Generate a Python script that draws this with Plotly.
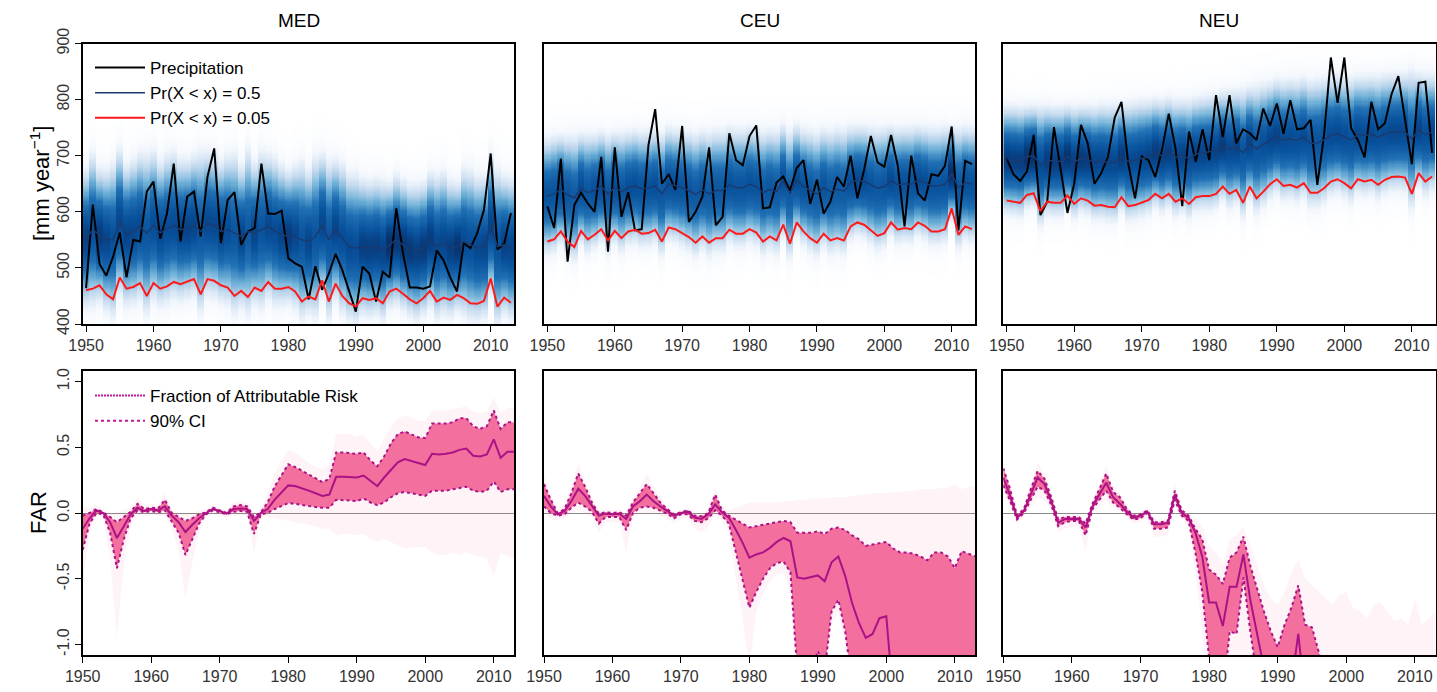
import numpy as np
import plotly.graph_objects as go

years = list(range(1950, 2014))
regions = ["MED", "CEU", "NEU"]

# ---------------- top row: precipitation [mm/year] ----------------
med_precip = [464,613,507,486,520,563,483,550,547,636,
              654,552,597,686,547,627,636,556,662,713,
              544,621,635,541,565,571,686,597,596,602,
              517,508,502,444,503,461,490,525,496,460,
              422,502,490,440,493,483,606,526,465,465,
              463,467,531,514,483,458,544,535,562,603,
              704,533,543,598]
med_q50 = [553,568,559,550,550,582,559,565,574,562,
           576,562,570,576,568,570,576,565,579,576,
           565,568,562,556,565,562,568,574,565,559,
           556,556,550,547,556,576,550,568,553,538,
           535,538,535,538,532,541,550,541,532,529,
           535,550,538,544,535,538,547,541,535,538,
           576,538,541,535]
med_q05 = [460,463,469,453,444,483,463,466,473,450,
           473,463,467,475,471,475,480,453,480,477,
           469,465,450,459,448,465,459,475,463,463,
           466,458,440,449,444,478,440,472,450,437,
           431,446,443,446,437,458,463,454,444,437,
           446,459,440,447,443,452,446,437,436,441,
           481,431,447,438]

ceu_precip = [610,571,695,511,612,634,615,600,698,529,
              715,591,635,567,569,719,783,650,667,639,
              753,582,600,627,715,576,591,740,692,683,
              735,754,606,608,652,663,638,678,692,614,
              657,597,618,662,645,700,624,675,735,688,
              680,737,682,574,700,633,620,667,664,682,
              752,567,691,685]
ceu_q50 = [628,632,640,630,625,642,634,638,645,632,
           643,636,643,646,641,642,646,632,650,647,
           643,638,631,639,632,638,638,648,643,643,
           649,645,634,640,636,655,632,657,645,638,
           632,643,636,640,637,652,656,654,648,642,
           645,656,648,650,649,656,652,646,646,649,
           668,643,652,649]
ceu_q05 = [547,551,565,547,537,566,551,559,569,549,
           566,553,565,568,561,562,568,547,572,569,
           562,555,545,556,545,553,553,568,561,561,
           569,563,547,556,549,577,543,581,565,553,
           545,561,549,553,549,574,581,577,567,557,
           562,581,568,571,569,581,575,565,565,569,
           606,559,574,569]

neu_precip = [695,667,655,672,737,594,618,751,675,598,
              650,755,722,650,669,698,768,796,686,624,
              699,692,662,710,775,713,610,743,689,747,
              692,808,733,808,722,747,740,728,784,753,
              793,739,799,747,749,764,648,737,875,794,
              875,749,728,697,796,747,758,810,842,767,
              685,830,832,705]
neu_q50 = [693,692,690,698,700,683,692,690,690,698,
           689,695,693,688,690,688,688,698,690,692,
           695,698,705,700,706,697,700,695,703,705,
           706,709,718,712,716,705,722,712,720,728,
           735,728,730,727,733,722,723,728,736,739,
           734,728,738,736,738,733,739,742,743,742,
           730,746,738,742]
neu_q05 = [620,618,616,630,633,601,618,616,616,629,
           614,624,620,611,612,609,608,626,610,612,
           616,621,632,624,632,618,624,614,626,628,
           628,632,645,632,639,616,645,624,636,649,
           658,646,648,643,651,634,634,642,654,658,
           651,642,658,654,657,648,657,662,663,661,
           632,669,654,663]

# ---------------- bottom row: FAR ----------------
med_far = [-0.12,-0.04,0.02,0.0,-0.07,-0.19,-0.10,-0.01,0.04,0.015,
           0.03,0.02,0.05,-0.02,-0.07,-0.145,-0.09,-0.04,0.0,0.03,
           0.015,-0.005,0.03,0.035,0.03,-0.06,0.0,0.03,0.10,0.155,
           0.21,0.205,0.19,0.17,0.15,0.13,0.14,0.275,0.275,0.275,
           0.27,0.285,0.245,0.205,0.27,0.33,0.385,0.41,0.395,0.38,
           0.365,0.45,0.445,0.45,0.46,0.48,0.49,0.435,0.43,0.445,
           0.56,0.42,0.465,0.465]
med_hi = [-0.02,0.0,0.03,0.005,-0.03,-0.07,-0.03,0.01,0.07,0.03,
          0.04,0.035,0.10,0.0,-0.03,-0.06,-0.04,-0.01,0.005,0.04,
          0.02,0.0,0.05,0.06,0.05,-0.03,0.005,0.08,0.20,0.28,
          0.37,0.35,0.32,0.29,0.26,0.235,0.26,0.46,0.46,0.455,
          0.45,0.46,0.40,0.355,0.43,0.53,0.60,0.62,0.60,0.575,
          0.57,0.68,0.68,0.68,0.69,0.72,0.72,0.66,0.64,0.66,
          0.78,0.64,0.69,0.69]
med_lo = [-0.28,-0.08,0.0,-0.01,-0.15,-0.42,-0.20,-0.04,0.02,0.005,
          0.015,0.005,0.02,-0.06,-0.15,-0.32,-0.20,-0.08,-0.01,0.02,
          0.005,-0.01,0.01,0.015,0.01,-0.16,-0.01,0.0,0.03,0.05,
          0.075,0.07,0.06,0.05,0.045,0.04,0.04,0.10,0.10,0.095,
          0.09,0.11,0.08,0.06,0.08,0.12,0.15,0.16,0.15,0.14,
          0.13,0.17,0.17,0.17,0.18,0.19,0.20,0.17,0.16,0.17,
          0.24,0.16,0.18,0.18]
med_env_hi = [0.05,0.04,0.06,0.02,0.0,0.0,0.02,0.04,0.12,0.06,
              0.07,0.06,0.16,0.03,0.0,0.0,0.0,0.02,0.03,0.06,
              0.04,0.02,0.08,0.09,0.08,0.0,0.03,0.15,0.30,0.40,
              0.48,0.46,0.42,0.38,0.35,0.33,0.37,0.60,0.60,0.60,
              0.58,0.60,0.53,0.47,0.56,0.66,0.72,0.74,0.73,0.70,
              0.70,0.78,0.78,0.78,0.79,0.80,0.81,0.77,0.76,0.77,
              0.88,0.76,0.80,0.80]
med_env_lo = [-0.55,-0.15,-0.02,-0.03,-0.35,-0.95,-0.40,-0.10,-0.01,-0.02,
              -0.01,-0.02,-0.02,-0.12,-0.30,-0.65,-0.38,-0.15,-0.03,-0.01,
              -0.02,-0.03,-0.02,-0.02,-0.02,-0.30,-0.04,-0.03,-0.04,-0.05,
              -0.06,-0.07,-0.08,-0.09,-0.10,-0.12,-0.12,-0.17,-0.16,-0.16,
              -0.17,-0.16,-0.20,-0.22,-0.20,-0.22,-0.25,-0.27,-0.26,-0.26,
              -0.26,-0.30,-0.32,-0.32,-0.30,-0.32,-0.30,-0.32,-0.33,-0.35,
              -0.48,-0.30,-0.33,-0.35]

ceu_far = [0.13,0.05,-0.01,0.015,0.09,0.185,0.13,0.05,-0.02,-0.005,
           -0.01,-0.005,-0.045,0.05,0.09,0.14,0.09,0.05,0.015,-0.02,
           0.0,0.01,-0.035,-0.045,-0.01,0.065,0.005,-0.035,-0.125,-0.225,
           -0.34,-0.315,-0.30,-0.265,-0.22,-0.19,-0.215,-0.49,-0.50,-0.49,
           -0.475,-0.52,-0.375,-0.33,-0.48,-0.685,-0.835,-0.95,-0.92,-0.80,
           -0.785,-1.4,-1.5,-1.6,-1.5,-1.7,-1.8,-1.6,-1.6,-1.7,
           -1.9,-1.6,-1.7,-1.7]
ceu_hi = [0.22,0.10,0.0,0.03,0.15,0.30,0.20,0.08,-0.005,0.005,
          0.0,0.005,-0.02,0.08,0.15,0.22,0.15,0.08,0.03,-0.01,
          0.005,0.02,-0.02,-0.025,0.0,0.14,0.02,-0.02,-0.05,-0.08,
          -0.11,-0.10,-0.09,-0.075,-0.065,-0.06,-0.07,-0.15,-0.15,-0.15,
          -0.14,-0.16,-0.12,-0.11,-0.13,-0.17,-0.20,-0.25,-0.24,-0.23,
          -0.22,-0.27,-0.30,-0.30,-0.31,-0.33,-0.36,-0.30,-0.30,-0.33,
          -0.42,-0.29,-0.31,-0.33]
ceu_lo = [0.05,0.0,-0.02,-0.01,0.04,0.08,0.05,0.01,-0.08,-0.03,
          -0.03,-0.03,-0.13,0.0,0.04,0.05,0.04,0.02,-0.005,-0.04,
          -0.01,-0.01,-0.06,-0.07,-0.04,0.02,-0.02,-0.08,-0.30,-0.52,
          -0.72,-0.60,-0.50,-0.42,-0.38,-0.37,-0.45,-1.2,-1.3,-1.2,
          -1.05,-1.2,-0.75,-0.66,-0.90,-1.3,-1.5,-1.6,-1.6,-1.5,
          -1.5,-1.7,-1.8,-1.8,-1.8,-1.9,-1.9,-1.8,-1.8,-1.9,
          -2.0,-1.8,-1.9,-1.9]
ceu_env_hi = [0.28,0.14,0.03,0.07,0.20,0.38,0.25,0.12,0.02,0.03,
              0.02,0.03,0.0,0.12,0.20,0.30,0.20,0.12,0.05,0.01,
              0.02,0.04,0.0,0.0,0.02,0.20,0.05,0.02,0.04,0.06,
              0.08,0.08,0.08,0.08,0.08,0.09,0.09,0.10,0.10,0.11,
              0.11,0.11,0.12,0.12,0.12,0.13,0.14,0.14,0.15,0.15,
              0.15,0.16,0.16,0.17,0.17,0.18,0.18,0.18,0.19,0.19,
              0.22,0.18,0.20,0.20]
ceu_env_lo = [0.0,-0.04,-0.05,-0.04,0.0,0.02,0.0,-0.03,-0.15,-0.07,
              -0.07,-0.07,-0.30,-0.04,0.0,0.0,0.0,-0.02,-0.04,-0.08,
              -0.04,-0.04,-0.12,-0.15,-0.10,-0.02,-0.06,-0.15,-0.50,-0.80,
              -1.2,-0.75,-0.62,-0.52,-0.47,-0.46,-0.60,-1.5,-1.5,-1.5,
              -1.5,-1.5,-0.85,-0.75,-1.0,-1.5,-1.5,-1.5,-1.5,-1.5,
              -1.5,-1.5,-1.5,-1.5,-1.5,-1.5,-1.5,-1.5,-1.5,-1.5,
              -1.5,-1.5,-1.5,-1.5]

neu_far = [0.27,0.13,-0.035,0.015,0.14,0.27,0.22,0.09,-0.075,-0.045,
           -0.045,-0.045,-0.11,0.05,0.14,0.23,0.12,0.07,0.01,-0.035,
           -0.02,0.01,-0.085,-0.085,-0.075,0.14,0.0,-0.035,-0.15,-0.33,
           -0.68,-0.68,-0.86,-0.56,-0.56,-0.315,-0.66,-0.94,-1.25,-1.5,
           -1.7,-1.5,-1.3,-0.92,-1.4,-1.6,-1.8,-1.9,-2.0,-1.9,
           -1.9,-2.0,-2.0,-2.1,-2.0,-2.0,-2.1,-2.1,-2.1,-2.1,
           -1.8,-2.1,-2.1,-2.0]
neu_hi = [0.34,0.18,-0.02,0.03,0.18,0.32,0.26,0.12,-0.05,-0.03,
          -0.03,-0.03,-0.08,0.07,0.18,0.30,0.16,0.12,0.03,-0.02,
          -0.01,0.02,-0.07,-0.07,-0.06,0.17,0.02,-0.02,-0.12,-0.20,
          -0.43,-0.47,-0.54,-0.34,-0.30,-0.18,-0.40,-0.58,-0.75,-0.90,
          -1.02,-0.85,-0.72,-0.55,-0.85,-0.87,-1.06,-1.3,-1.5,-1.5,
          -1.5,-1.6,-1.6,-1.6,-1.6,-1.6,-1.6,-1.7,-1.7,-1.7,
          -1.4,-1.7,-1.7,-1.6]
neu_lo = [0.21,0.09,-0.05,0.0,0.10,0.20,0.17,0.06,-0.10,-0.07,
          -0.06,-0.06,-0.17,0.03,0.10,0.17,0.08,0.04,-0.01,-0.05,
          -0.04,0.0,-0.12,-0.12,-0.11,0.10,-0.02,-0.06,-0.30,-0.60,
          -1.1,-1.3,-1.4,-0.90,-0.92,-0.49,-0.90,-1.3,-1.6,-1.8,
          -2.0,-2.0,-2.0,-2.0,-2.0,-2.0,-2.0,-2.0,-2.0,-2.0,
          -2.2,-2.2,-2.2,-2.2,-2.2,-2.2,-2.2,-2.2,-2.2,-2.2,
          -2.2,-2.2,-2.2,-2.2]
neu_env_hi = [0.40,0.22,0.0,0.06,0.22,0.38,0.30,0.15,-0.03,-0.01,
              -0.01,-0.01,-0.05,0.10,0.22,0.36,0.19,0.15,0.05,0.0,
              0.01,0.04,-0.05,-0.05,-0.04,0.22,0.04,0.0,-0.05,-0.10,
              -0.25,-0.30,-0.38,-0.20,-0.17,-0.10,-0.25,-0.40,-0.55,-0.65,
              -0.70,-0.60,-0.45,-0.35,-0.50,-0.55,-0.60,-0.65,-0.70,-0.62,
              -0.60,-0.72,-0.75,-0.80,-0.70,-0.68,-0.75,-0.82,-0.80,-0.85,
              -0.65,-0.85,-0.80,-0.75]
neu_env_lo = [0.15,0.05,-0.08,-0.03,0.05,0.12,0.10,0.02,-0.15,-0.12,
              -0.10,-0.10,-0.30,0.0,0.05,0.10,0.04,0.01,-0.04,-0.08,
              -0.07,-0.03,-0.18,-0.18,-0.17,0.05,-0.05,-0.10,-0.45,-0.90,
              -2.0,-2.0,-2.0,-2.0,-2.0,-2.0,-2.0,-2.0,-2.0,-2.0,
              -2.0,-2.0,-2.0,-2.0,-2.0,-2.0,-2.0,-2.0,-2.0,-2.0,
              -2.0,-2.0,-2.0,-2.0,-2.0,-2.0,-2.0,-2.0,-2.0,-2.0,
              -2.0,-2.0,-2.0,-2.0]

top_data = [(med_precip, med_q50, med_q05), (ceu_precip, ceu_q50, ceu_q05),
            (neu_precip, neu_q50, neu_q05)]
bot_data = [(med_far, med_hi, med_lo, med_env_hi, med_env_lo),
            (ceu_far, ceu_hi, ceu_lo, ceu_env_hi, ceu_env_lo),
            (neu_far, neu_hi, neu_lo, neu_env_hi, neu_env_lo)]

x_ticks = [1950, 1960, 1970, 1980, 1990, 2000, 2010]
top_yticks = [400, 500, 600, 700, 800, 900]
far_yticks = [-1.0, -0.5, 0.0, 0.5, 1.0]
far_yticktext = ["-1.0", "-0.5", "0.0", "0.5", "1.0"]

# ---------------- layout geometry (pixels) ----------------
W, H = 1437, 692
col_px = [(82.7, 514.3), (544.0, 975.3), (1003.3, 1435.5)]
top_px = (43.5, 324.0)
bot_px = (371.0, 655.0)

def xdom(c):
    return [col_px[c][0] / W, col_px[c][1] / W]

def ydom(r):
    return [1 - r[1] / H, 1 - r[0] / H]

FONT = "Liberation Sans, Arial, Helvetica, sans-serif"
TICKFONT = dict(family=FONT, size=16, color="#333333")
blues = [[0.0, "#ffffff"], [0.06, "#f4f8fd"], [0.16, "#c6dbef"], [0.32, "#6baed6"],
         [0.52, "#2171b5"], [0.78, "#08519c"], [1.0, "#08306b"]]
PINK_LINE = "#ab1285"

fig = go.Figure()
ygrid = np.arange(400, 901, 2.0)

for c in range(3):
    precip, q50, q05 = [np.array(a, dtype=float) for a in top_data[c]]
    xa = "x" if c == 0 else f"x{c+1}"
    ya = "y" if c == 0 else f"y{c+1}"
    sig = (q50 - q05) / 1.645
    z = np.exp(-0.5 * ((ygrid[:, None] - q50[None, :]) / sig[None, :]) ** 2) / sig[None, :]
    z = z / z.max()
    fig.add_trace(go.Heatmap(x=years, y=ygrid, z=z, colorscale=blues, zmin=0, zmax=1,
                             showscale=False, hoverinfo="skip", xaxis=xa, yaxis=ya))
    show = c == 0
    fig.add_trace(go.Scatter(x=years, y=precip, mode="lines", name="Precipitation",
                             line=dict(color="black", width=2), showlegend=show,
                             legend="legend", xaxis=xa, yaxis=ya))
    fig.add_trace(go.Scatter(x=years, y=q50, mode="lines", name="Pr(X < x) = 0.5",
                             line=dict(color="#1b3a70", width=1.5), showlegend=show,
                             legend="legend", xaxis=xa, yaxis=ya))
    fig.add_trace(go.Scatter(x=years, y=q05, mode="lines", name="Pr(X < x) = 0.05",
                             line=dict(color="#ff1a1a", width=2), showlegend=show,
                             legend="legend", xaxis=xa, yaxis=ya))

for c in range(3):
    far, hi, lo, ehi, elo = bot_data[c]
    xa = f"x{c+4}"
    ya = f"y{c+4}"
    fig.add_trace(go.Scatter(x=years, y=elo, mode="lines", line=dict(width=0),
                             showlegend=False, hoverinfo="skip", xaxis=xa, yaxis=ya))
    fig.add_trace(go.Scatter(x=years, y=ehi, mode="lines", line=dict(width=0),
                             fill="tonexty", fillcolor="rgba(244,105,158,0.07)",
                             showlegend=False, hoverinfo="skip", xaxis=xa, yaxis=ya))
    fig.add_trace(go.Scatter(x=years, y=lo, mode="lines", line=dict(width=0),
                             showlegend=False, hoverinfo="skip", xaxis=xa, yaxis=ya))
    fig.add_trace(go.Scatter(x=years, y=hi, mode="lines", line=dict(width=0),
                             fill="tonexty", fillcolor="rgba(241,88,142,0.85)",
                             showlegend=False, hoverinfo="skip", xaxis=xa, yaxis=ya))
    fig.add_trace(go.Scatter(x=years, y=far, mode="lines", line=dict(color=PINK_LINE, width=2),
                             showlegend=False, xaxis=xa, yaxis=ya))
    fig.add_trace(go.Scatter(x=years, y=hi, mode="lines",
                             line=dict(color=PINK_LINE, width=2, dash="3px,3px"),
                             showlegend=False, xaxis=xa, yaxis=ya))
    fig.add_trace(go.Scatter(x=years, y=lo, mode="lines",
                             line=dict(color=PINK_LINE, width=2, dash="3px,3px"),
                             showlegend=False, xaxis=xa, yaxis=ya))

# legend-only entries for the FAR legend
fig.add_trace(go.Scatter(x=[None], y=[None], mode="lines", name="Fraction of Attributable Risk",
                         line=dict(color="#c2189a", width=2, dash="2px,1px"),
                         legend="legend2", xaxis="x4", yaxis="y4"))
fig.add_trace(go.Scatter(x=[None], y=[None], mode="lines", name="90% CI",
                         line=dict(color="#c2189a", width=2, dash="3px,3px"),
                         legend="legend2", xaxis="x4", yaxis="y4"))

LEGFONT = dict(family=FONT, size=17, color="black")
layout = dict(
    width=W, height=H, margin=dict(l=0, r=0, t=0, b=0, autoexpand=False),
    paper_bgcolor="white", plot_bgcolor="white",
    font=dict(family=FONT, size=16, color="black"),
    showlegend=True,
    legend=dict(x=90 / W, y=1 - 50 / H, xanchor="left", yanchor="top", traceorder="normal",
                itemwidth=50, bgcolor="rgba(0,0,0,0)", font=LEGFONT),
    legend2=dict(x=90 / W, y=1 - 378 / H, xanchor="left", yanchor="top", traceorder="normal",
                 itemwidth=50, bgcolor="rgba(0,0,0,0)", font=LEGFONT),
)

axis_common = dict(showline=True, linecolor="black", linewidth=1.5, mirror=True,
                   showgrid=False, zeroline=False, ticks="outside", ticklen=6,
                   tickwidth=1.2, tickcolor="black", tickfont=TICKFONT, automargin=False)

for c in range(3):
    xn = "xaxis" if c == 0 else f"xaxis{c+1}"
    yn = "yaxis" if c == 0 else f"yaxis{c+1}"
    ya = "y" if c == 0 else f"y{c+1}"
    xa = "x" if c == 0 else f"x{c+1}"
    layout[xn] = dict(axis_common, domain=xdom(c), anchor=ya, range=[1949.5, 2013.5],
                      tickvals=x_ticks)
    ytop = dict(axis_common, domain=ydom(top_px), anchor=xa, range=[400, 900],
                tickvals=top_yticks, tickangle=-90)
    if c > 0:
        ytop.update(showticklabels=False, ticks="")
    layout[yn] = ytop
    layout[f"xaxis{c+4}"] = dict(axis_common, domain=xdom(c), anchor=f"y{c+4}",
                                 range=[1950, 2013], tickvals=x_ticks)
    ybot = dict(axis_common, domain=ydom(bot_px), anchor=f"x{c+4}", range=[-1.08, 1.08],
                tickvals=far_yticks, ticktext=far_yticktext, tickangle=-90,
                zeroline=True, zerolinecolor="#8a8a8a", zerolinewidth=1.3)
    if c > 0:
        ybot.update(showticklabels=False, ticks="")
    layout[f"yaxis{c+4}"] = ybot

annotations = []
for c, name in enumerate(regions):
    annotations.append(dict(text=name, x=(col_px[c][0] + col_px[c][1]) / 2 / W, y=1 - 20 / H,
                            xref="paper", yref="paper", showarrow=False,
                            font=dict(family=FONT, size=19, color="black"),
                            xanchor="center", yanchor="middle"))
annotations.append(dict(text="[mm year<sup>−1</sup>]", x=40 / W, y=1 - 184 / H,
                        xref="paper", yref="paper", showarrow=False, textangle=-90,
                        font=dict(family=FONT, size=22, color="black"),
                        xanchor="center", yanchor="middle"))
annotations.append(dict(text="FAR", x=38 / W, y=1 - 513 / H,
                        xref="paper", yref="paper", showarrow=False, textangle=-90,
                        font=dict(family=FONT, size=22, color="black"),
                        xanchor="center", yanchor="middle"))
layout["annotations"] = annotations

fig.update_layout(**layout)
fig.write_html("out.html", config={"displayModeBar": False},
               post_script="document.body.style.margin='0px';document.body.style.overflow='hidden';")
